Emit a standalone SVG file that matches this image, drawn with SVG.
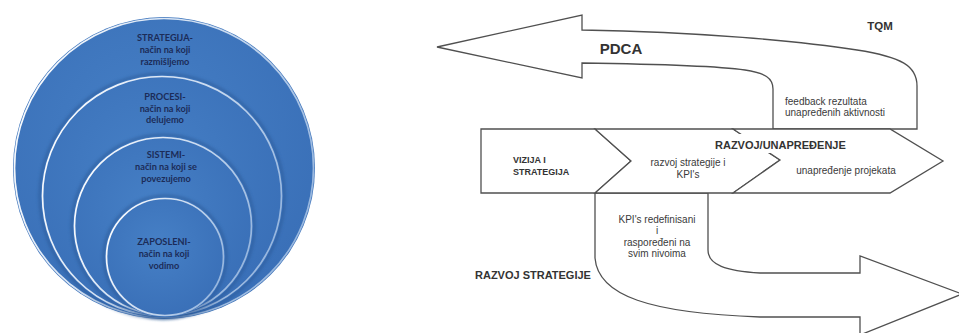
<svg xmlns="http://www.w3.org/2000/svg" width="959" height="333" viewBox="0 0 959 333">
  <defs>
    <radialGradient id="ballFill" cx="0.45" cy="0.4" r="0.7">
      <stop offset="0" stop-color="#4680c6"/>
      <stop offset="0.85" stop-color="#3a70b8"/>
      <stop offset="1" stop-color="#3064a8"/>
    </radialGradient>
    <linearGradient id="rim" x1="0" y1="0.2" x2="1" y2="0.6">
      <stop offset="0" stop-color="#ffffff" stop-opacity="1"/>
      <stop offset="0.55" stop-color="#eef5fd" stop-opacity="0.8"/>
      <stop offset="1" stop-color="#d6e6f8" stop-opacity="0.6"/>
    </linearGradient>
    <filter id="soft" x="-5%" y="-5%" width="110%" height="110%">
      <feGaussianBlur stdDeviation="0.5"/>
    </filter>
    <filter id="shade" x="-10%" y="-10%" width="120%" height="120%">
      <feGaussianBlur stdDeviation="1.4"/>
    </filter>
  </defs>
  <style>
    .disc { fill: url(#ballFill); }
    .edge { fill: none; stroke: #26528f; stroke-width: 3; opacity: 0.5; }
    .glow { fill: none; stroke: url(#rim); stroke-width: 1.7; }
    .ctext { font-family: Lato, "Open Sans", sans-serif; font-weight: 700; font-size: 9.2px; fill: #1c2c58; text-anchor: middle; }
    .shape { fill: #ffffff; stroke: #505050; stroke-width: 1.3; stroke-linejoin: miter; }
    .lbl { font-family: "Liberation Sans", Arial, sans-serif; font-size: 10px; fill: #3a3a3a; }
    .hd { font-family: "Liberation Sans", Arial, sans-serif; font-weight: 700; fill: #333333; }
  </style>

  <rect width="959" height="333" fill="#ffffff"/>

  <!-- Nested circles: strategy, processes, systems, people -->
  <g id="circle-strategija">
    <circle class="disc" cx="164" cy="168" r="151"/>
    <circle class="glow" cx="164" cy="168" r="149.5" filter="url(#soft)"/>
    <text class="ctext" x="165" y="41">STRATEGIJA-</text>
    <text class="ctext" x="165" y="53">način na koji</text>
    <text class="ctext" x="165" y="65">razmišljemo</text>
  </g>
  <g id="circle-procesi">
    <circle class="edge" cx="162" cy="196" r="122" filter="url(#shade)"/>
    <circle class="disc" cx="162" cy="196" r="121"/>
    <circle class="glow" cx="162" cy="196" r="119.5" filter="url(#soft)"/>
    <text class="ctext" x="165" y="100">PROCESI-</text>
    <text class="ctext" x="165" y="112">način na koji</text>
    <text class="ctext" x="165" y="123">delujemo</text>
  </g>
  <g id="circle-sistemi">
    <circle class="edge" cx="163" cy="226" r="91" filter="url(#shade)"/>
    <circle class="disc" cx="163" cy="226" r="90"/>
    <circle class="glow" cx="163" cy="226" r="88.5" filter="url(#soft)"/>
    <text class="ctext" x="166" y="158">SISTEMI-</text>
    <text class="ctext" x="166" y="170">način na koji se</text>
    <text class="ctext" x="166" y="182">povezujemo</text>
  </g>
  <g id="circle-zaposleni">
    <circle class="edge" cx="165" cy="257" r="61" filter="url(#shade)"/>
    <circle class="disc" cx="165" cy="257" r="60"/>
    <circle class="glow" cx="165" cy="257" r="58.5" filter="url(#soft)"/>
    <text class="ctext" x="164" y="245">ZAPOSLENI-</text>
    <text class="ctext" x="164" y="257">način na koji</text>
    <text class="ctext" x="164" y="269">vodimo</text>
  </g>

  <!-- Connectors: PDCA feedback arrow and strategy deployment arrow -->
  <g id="connectors">
    <path id="pdca-arrow" class="shape" d="M917,129 V86 C917,66 902,57 857,50 C800,41 700,32 582,30 V15 L437,47 L582,78 V63 C650,64 718,66 745,70 C765,73 773,78 773,89 V129 Z"/>
    <path id="deploy-arrow" class="shape" d="M595,193 V258 C598,296 650,313 760,317 L860,317 V335 L962,294 L860,256 V273 L760,273 C726,271 708,265 708,250 V193 Z"/>
  </g>

  <!-- Process chevrons -->
  <g id="chevron-vizija">
    <path class="shape" d="M481,129 H595 L631,161 L595,193 H481 Z"/>
    <text class="hd" font-size="9" x="513" y="163">VIZIJA I</text>
    <text class="hd" font-size="9" x="513" y="175">STRATEGIJA</text>
  </g>
  <g id="chevron-razvoj">
    <path class="shape" d="M595,129 H733 L780,160 L733,193 H595 L631,161 Z"/>
    <text class="lbl" text-anchor="middle" x="688" y="166">razvoj strategije i</text>
    <text class="lbl" text-anchor="middle" x="688" y="178">KPI's</text>
  </g>
  <g id="chevron-unapredjenje">
    <path class="shape" d="M733,129 H890 L943,161 L890,193 H733 L780,160 Z"/>
    <text class="lbl" text-anchor="middle" x="846" y="174">unapređenje projekata</text>
  </g>

  <!-- Free labels -->
  <g id="label-razvoj-unapredjenje">
    <rect x="712" y="134" width="140" height="19" fill="#ffffff"/>
    <text class="hd" font-size="11" x="715" y="149">RAZVOJ/UNAPREĐENJE</text>
  </g>
  <g id="label-tqm">
    <text class="hd" font-size="11.5" x="880" y="30" text-anchor="middle">TQM</text>
  </g>
  <g id="label-pdca">
    <text class="hd" font-size="15" x="621" y="54" text-anchor="middle">PDCA</text>
  </g>
  <g id="label-feedback">
    <text class="lbl" x="785" y="105">feedback rezultata</text>
    <text class="lbl" x="785" y="116">unapređenih aktivnosti</text>
  </g>
  <g id="label-kpi">
    <text class="lbl" text-anchor="middle" x="657" y="223">KPI's redefinisani</text>
    <text class="lbl" text-anchor="middle" x="657" y="234">i</text>
    <text class="lbl" text-anchor="middle" x="657" y="245.5">raspoređeni na</text>
    <text class="lbl" text-anchor="middle" x="657" y="257">svim nivoima</text>
  </g>
  <g id="label-razvoj-strategije">
    <text class="hd" font-size="11" x="475" y="279">RAZVOJ STRATEGIJE</text>
  </g>
</svg>
